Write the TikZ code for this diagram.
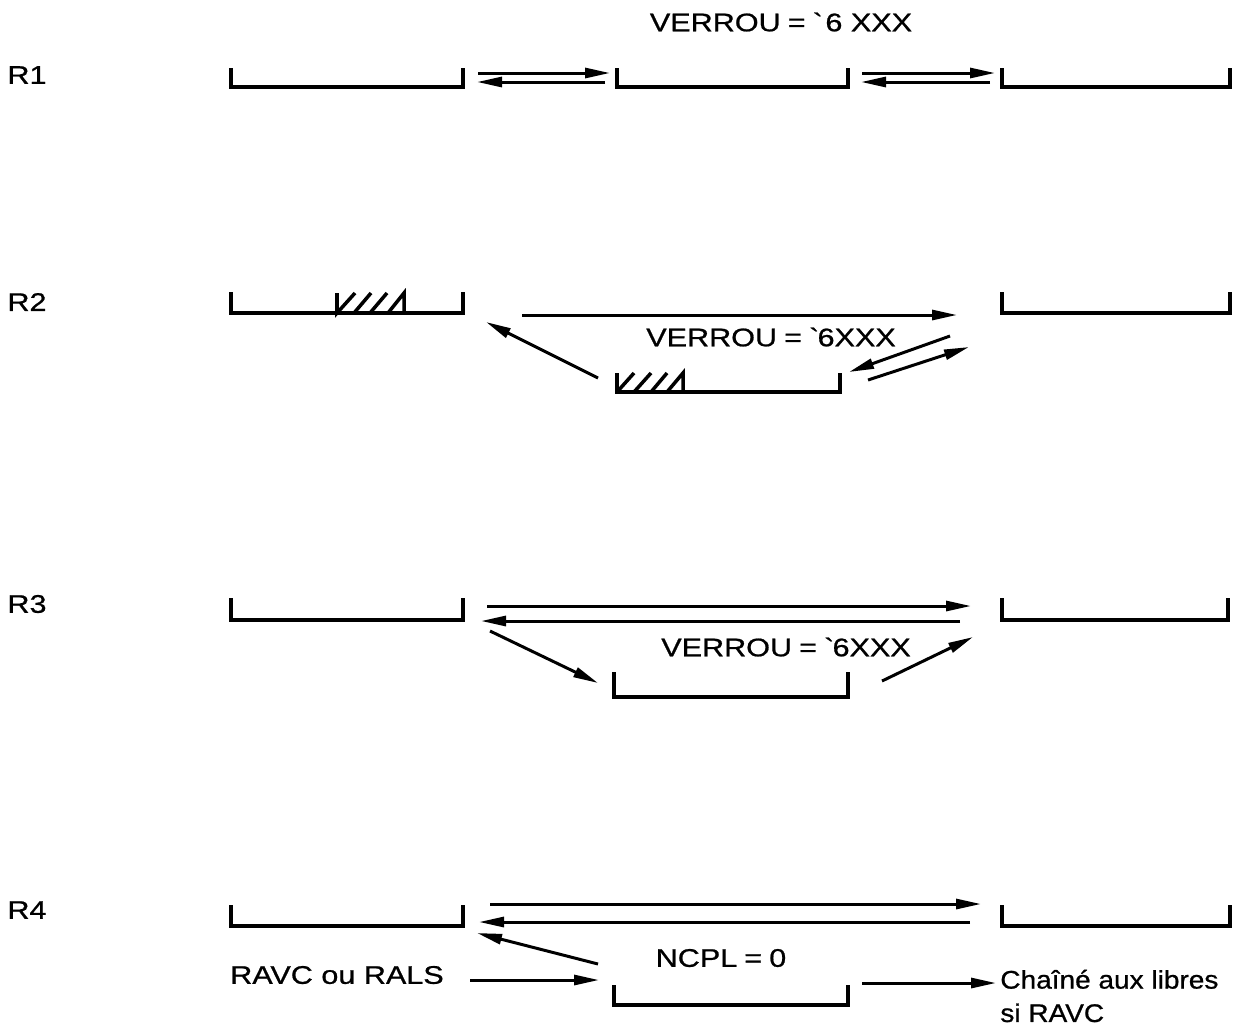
\documentclass[tikz,border=0pt]{standalone}
\usepackage{fontspec}
\setmainfont{Liberation Sans}[FakeStretch=1.2,FakeBold=0.8]
\newfontfamily\narrowfont{Liberation Sans}[FakeStretch=1.1,FakeBold=0.8]
\usetikzlibrary{arrows.meta}
\tikzset{
  bracket/.style={line width=1.8pt},
  hatch/.style={line width=2pt},
  arr/.style={line width=1.7pt,-{Triangle[length=0.5cm,width=0.2cm]}},
  lbl/.style={font=\fontsize{14.5}{17}\selectfont,inner sep=0pt},
}
\begin{document}
\begin{tikzpicture}[x=0.02cm,y=-0.02cm]
\useasboundingbox (0,0) rectangle (1239,1029);
% row labels
\node[lbl] (R1) at (27,75) {R1};
\node[lbl] (R2) at (27,302) {R2};
\node[lbl] (R3) at (27,604) {R3};
\node[lbl] (R4) at (27,910) {R4};
% ---------- R1 ----------
\node[lbl] (v1) at (781,22) {VERROU\;=\;\textasciigrave\,6 XXX};
\draw[bracket] (231,68) |- (463,87) -- (463,68);
\draw[bracket] (617,68) |- (848,87) -- (848,68);
\draw[bracket] (1002,68) |- (1230,87) -- (1230,68);
\coordinate (p1a) at (478,73); \coordinate (p1b) at (610,73);
\coordinate (p1c) at (605,82); \coordinate (p1d) at (477,82);
\coordinate (p1e) at (862,73); \coordinate (p1f) at (995,73);
\coordinate (p1g) at (990,82); \coordinate (p1h) at (861,82);
\draw[arr] (p1a) -- (p1b);
\draw[arr] (p1c) -- (p1d);
\draw[arr] (p1e) -- (p1f);
\draw[arr] (p1g) -- (p1h);
% ---------- R2 ----------
\draw[bracket] (231,292) |- (463,313) -- (463,292);
\draw[bracket] (1002,292) |- (1230,313) -- (1230,292);
\draw[bracket] (617,373) |- (840,392) -- (840,373);
% hatch left box
\draw[hatch] (337,293) -- (337,313) -- (355,293)
  (354,313) -- (371,293) (370,313) -- (387,293)
  (388,313) -- (404,293) -- (404,313);
% hatch middle box
\draw[hatch] (617,392) -- (634,373) (634,392) -- (651,373)
  (651,392) -- (667,373) (667,392) -- (683,373) -- (683,392);
\node[lbl] (v2) at (771,337) {VERROU\;=\;\textasciigrave 6XXX};
\coordinate (p2a) at (522,315); \coordinate (p2b) at (957,315);
\coordinate (p2c) at (598,378); \coordinate (p2d) at (486,322);
\coordinate (p2e) at (950,336); \coordinate (p2f) at (849,372);
\coordinate (p2g) at (868,380); \coordinate (p2h) at (969,347);
\draw[arr] (p2a) -- (p2b);
\draw[arr] (p2c) -- (p2d);
\draw[arr] (p2e) -- (p2f);
\draw[arr] (p2g) -- (p2h);
% ---------- R3 ----------
\draw[bracket] (231,598) |- (463,620) -- (463,598);
\draw[bracket] (1002,598) |- (1228,620) -- (1228,598);
\draw[bracket] (614,672) |- (848,697) -- (848,672);
\node[lbl] (v3) at (786,647) {VERROU\;=\;\textasciigrave 6XXX};
\coordinate (p3a) at (487,606); \coordinate (p3b) at (971,606);
\coordinate (p3c) at (960,621); \coordinate (p3d) at (481,621);
\coordinate (p3e) at (490,631); \coordinate (p3f) at (598,683);
\coordinate (p3g) at (882,681); \coordinate (p3h) at (973,637);
\draw[arr] (p3a) -- (p3b);
\draw[arr] (p3c) -- (p3d);
\draw[arr] (p3e) -- (p3f);
\draw[arr] (p3g) -- (p3h);
% ---------- R4 ----------
\draw[bracket] (231,905) |- (463,926) -- (463,905);
\draw[bracket] (1002,905) |- (1230,926) -- (1230,905);
\draw[bracket] (614,985) |- (848,1005) -- (848,985);
\node[lbl] (n4) at (721,958) {NCPL\;=\;0};
\node[lbl] (rav) at (337,975) {RAVC ou RALS};
\node[lbl,font=\fontsize{14.5}{17}\narrowfont,anchor=west,align=left] (ch) at (1000,996) {Chaîné aux libres\\[2pt]si RAVC};
\coordinate (p4a) at (490,904); \coordinate (p4b) at (981,904);
\coordinate (p4c) at (970,922); \coordinate (p4d) at (479,922);
\coordinate (p4e) at (598,964); \coordinate (p4f) at (477,933);
\coordinate (p4g) at (470,980); \coordinate (p4h) at (599,980);
\coordinate (p4i) at (862,983); \coordinate (p4j) at (996,983);
\draw[arr] (p4a) -- (p4b);
\draw[arr] (p4c) -- (p4d);
\draw[arr] (p4e) -- (p4f);
\draw[arr] (p4g) -- (p4h);
\draw[arr] (p4i) -- (p4j);
\end{tikzpicture}
\end{document}
